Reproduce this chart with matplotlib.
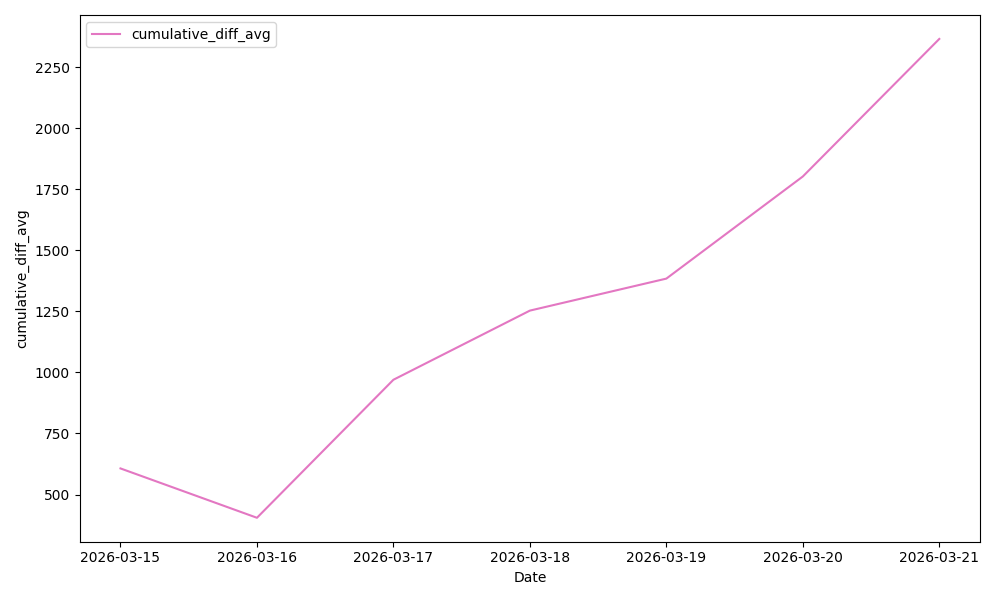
import pandas as pd
import matplotlib
matplotlib.use("Agg")
import matplotlib.pyplot as plt

dates = ["2026-03-15", "2026-03-16", "2026-03-17", "2026-03-18",
         "2026-03-19", "2026-03-20", "2026-03-21"]
cumulative_diff_avg = [607, 405, 970, 1253, 1384, 1802, 2365]

x = pd.to_datetime(dates)

fig, ax = plt.subplots(figsize=(10, 6), dpi=100)
ax.plot(x, cumulative_diff_avg, color="tab:pink", label="cumulative_diff_avg")
ax.set_xticks(x)
ax.set_xticklabels(dates)
ax.set_xlabel("Date")
ax.set_ylabel("cumulative_diff_avg")
ax.legend(loc="upper left")
fig.tight_layout()
fig.savefig("out.png")
